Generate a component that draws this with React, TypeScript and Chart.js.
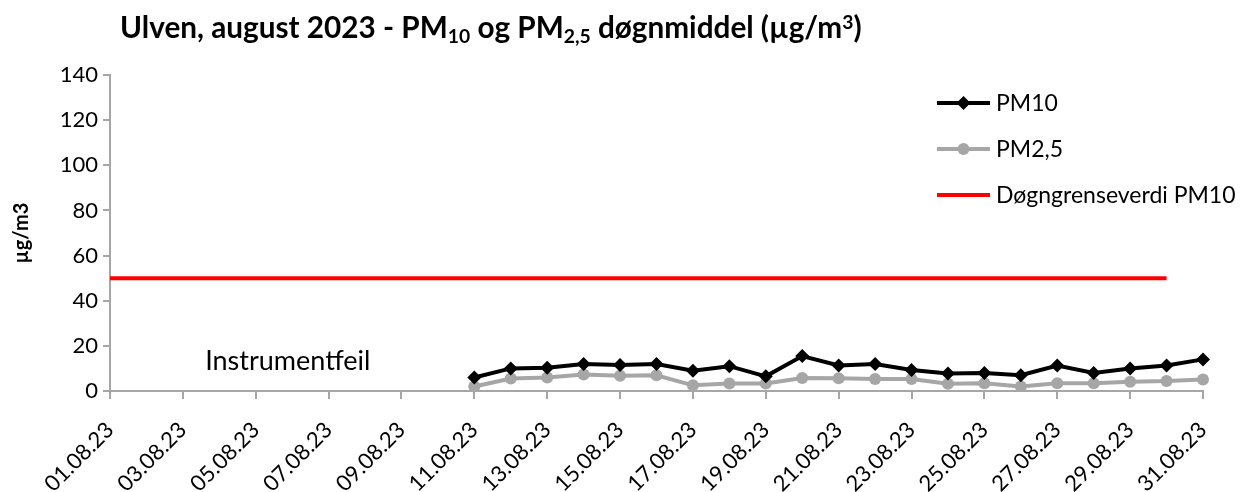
import React, { useEffect, useRef } from 'react';
import { Chart, registerables } from 'chart.js';

Chart.register(...registerables);

const FONT = 'Lato';

const categories = [
  '01.08.23', '02.08.23', '03.08.23', '04.08.23', '05.08.23', '06.08.23', '07.08.23', '08.08.23',
  '09.08.23', '10.08.23', '11.08.23', '12.08.23', '13.08.23', '14.08.23', '15.08.23', '16.08.23',
  '17.08.23', '18.08.23', '19.08.23', '20.08.23', '21.08.23', '22.08.23', '23.08.23', '24.08.23',
  '25.08.23', '26.08.23', '27.08.23', '28.08.23', '29.08.23', '30.08.23', '31.08.23',
];

const pm10 = [
  null, null, null, null, null, null, null, null, null, null,
  6, 10, 10.3, 12, 11.5, 12, 9, 11, 6.5, 15.5, 11.3, 12, 9.3, 7.8, 8, 7, 11.3, 8, 10, 11.3, 14,
];

const pm25 = [
  null, null, null, null, null, null, null, null, null, null,
  2, 5.5, 6, 7.3, 6.8, 7, 2.5, 3.3, 3.3, 5.8, 5.7, 5.3, 5.3, 3.2, 3.4, 2, 3.4, 3.4, 4.1, 4.4, 5.1,
];

const limitPm10 = [
  50, 50, 50, 50, 50, 50, 50, 50, 50, 50, 50, 50, 50, 50, 50, 50,
  50, 50, 50, 50, 50, 50, 50, 50, 50, 50, 50, 50, 50, 50, null,
];

const yTicks = [0, 20, 40, 60, 80, 100, 120, 140];

const seriesNames = ['PM10', 'PM2,5', 'Døgngrenseverdi PM10'];
const titleParts: { t: string; k: 'n' | 'sub' | 'sup' }[] = [
  { t: 'Ulven, august 2023 - PM', k: 'n' },
  { t: '10', k: 'sub' },
  { t: ' og PM', k: 'n' },
  { t: '2,5', k: 'sub' },
  { t: ' døgnmiddel (µg/m', k: 'n' },
  { t: '3', k: 'sup' },
  { t: ')', k: 'n' },
];
const annotationText = 'Instrumentfeil';

const GREY_AXIS = '#A6A6A6';
const PM10_COLOR = '#000000';
const PM25_COLOR = '#A6A6A6';
const LIMIT_COLOR = '#FF0000';

const overlayPlugin = {
  id: 'overlay',
  afterDraw(chart: any) {
    const ctx = chart.ctx;
    ctx.save();
    // Title, fitted to the reference width
    const targetW = 742;
    const measure = (size: number) => {
      let w = 0;
      for (const p of titleParts) {
        ctx.font = `bold ${p.k === 'n' ? size : size * 0.65}px ${FONT}`;
        w += ctx.measureText(p.t).width;
      }
      return w;
    };
    const size = 23 * (targetW / measure(23));
    const subSize = size * 0.65;
    ctx.fillStyle = '#000';
    ctx.textBaseline = 'alphabetic';
    ctx.textAlign = 'left';
    let x = 120;
    const base = 38;
    for (const p of titleParts) {
      if (p.k === 'n') {
        ctx.font = `bold ${size}px ${FONT}`;
        ctx.fillText(p.t, x, base);
      } else if (p.k === 'sub') {
        ctx.font = `bold ${subSize}px ${FONT}`;
        ctx.fillText(p.t, x, base + 5);
      } else {
        ctx.font = `bold ${subSize}px ${FONT}`;
        ctx.fillText(p.t, x, base - 9);
      }
      x += ctx.measureText(p.t).width;
    }

    // Annotation
    const xs = chart.scales.x;
    const ys = chart.scales.y;
    ctx.font = `27px ${FONT}`;
    ctx.textAlign = 'center';
    ctx.textBaseline = 'middle';
    ctx.fillText(annotationText, xs.getPixelForValue(4.88), ys.getPixelForValue(13.3));

    // Legend
    const lx0 = 937;
    const lx1 = 990;
    const rows = [103, 149, 195];
    const colors = [PM10_COLOR, PM25_COLOR, LIMIT_COLOR];
    rows.forEach((ry, i) => {
      ctx.strokeStyle = colors[i];
      ctx.lineWidth = 4;
      ctx.beginPath();
      ctx.moveTo(lx0, ry);
      ctx.lineTo(lx1, ry);
      ctx.stroke();
      const cx = (lx0 + lx1) / 2;
      ctx.fillStyle = colors[i];
      if (i === 0) {
        ctx.beginPath();
        ctx.moveTo(cx, ry - 7);
        ctx.lineTo(cx + 7, ry);
        ctx.lineTo(cx, ry + 7);
        ctx.lineTo(cx - 7, ry);
        ctx.closePath();
        ctx.fill();
      } else if (i === 1) {
        ctx.beginPath();
        ctx.arc(cx, ry, 6, 0, Math.PI * 2);
        ctx.fill();
      }
      ctx.fillStyle = '#000';
      ctx.font = `23px ${FONT}`;
      ctx.textAlign = 'left';
      ctx.textBaseline = 'middle';
      ctx.fillText(seriesNames[i], 996, ry + 1);
    });
    ctx.restore();
  },
};

export default function App() {
  const ref = useRef<HTMLCanvasElement | null>(null);
  useEffect(() => {
    if (!ref.current) return;
    const chart = new Chart(ref.current, {
      type: 'line',
      data: {
        labels: categories,
        datasets: [
          {
            label: seriesNames[0],
            data: pm10,
            borderColor: PM10_COLOR,
            backgroundColor: PM10_COLOR,
            borderWidth: 4,
            pointStyle: 'rectRot',
            pointRadius: 7,
            pointBorderWidth: 0,
            tension: 0,
            order: 1,
          },
          {
            label: seriesNames[1],
            data: pm25,
            borderColor: PM25_COLOR,
            backgroundColor: PM25_COLOR,
            borderWidth: 4,
            pointStyle: 'circle',
            pointRadius: 6,
            pointBorderWidth: 0,
            tension: 0,
            order: 2,
          },
          {
            label: seriesNames[2],
            data: limitPm10,
            borderColor: LIMIT_COLOR,
            backgroundColor: LIMIT_COLOR,
            borderWidth: 4,
            pointRadius: 0,
            tension: 0,
            order: 3,
          },
        ],
      },
      options: {
        animation: false,
        responsive: true,
        maintainAspectRatio: false,
        layout: { padding: { top: 75, right: 48, left: 0, bottom: 0 } },
        plugins: {
          legend: { display: false },
          title: { display: false },
          tooltip: { enabled: false },
        },
        scales: {
          x: {
            type: 'category',
            offset: false,
            grid: {
              display: true,
              drawOnChartArea: false,
              drawTicks: true,
              tickLength: 8,
              lineWidth: 2,
              color: (c: any) => (c.index % 2 === 0 ? GREY_AXIS : 'rgba(0,0,0,0)'),
            },
            border: { display: true, color: GREY_AXIS, width: 2 },
            ticks: {
              autoSkip: false,
              maxRotation: 45,
              minRotation: 45,
              color: '#000',
              padding: 18,
              font: { family: FONT, size: 22 },
              callback: (_v: any, i: number) => (i % 2 === 0 ? categories[i] : ''),
            },
            afterFit: (s: any) => {
              s.height = 101;
            },
          },
          y: {
            min: 0,
            max: 140,
            afterBuildTicks: (s: any) => {
              s.ticks = yTicks.map((v) => ({ value: v }));
            },
            grid: {
              display: true,
              drawOnChartArea: false,
              drawTicks: true,
              tickLength: 7,
              lineWidth: 2,
              color: GREY_AXIS,
            },
            border: { display: true, color: GREY_AXIS, width: 2 },
            ticks: {
              color: '#000',
              padding: 5,
              font: { family: FONT, size: 22 },
            },
            title: {
              display: true,
              text: 'µg/m3',
              color: '#000',
              font: { family: FONT, size: 20, weight: 'bold' },
              padding: { top: 10, bottom: 0 },
            },
            afterFit: (s: any) => {
              s.width = 110;
            },
          },
        },
      } as any,
      plugins: [overlayPlugin],
    });
    return () => chart.destroy();
  }, []);

  return (
    <div style={{ position: 'fixed', left: 0, top: 0, width: 1251, height: 492, background: '#fff' }}>
      <canvas ref={ref} />
    </div>
  );
}
